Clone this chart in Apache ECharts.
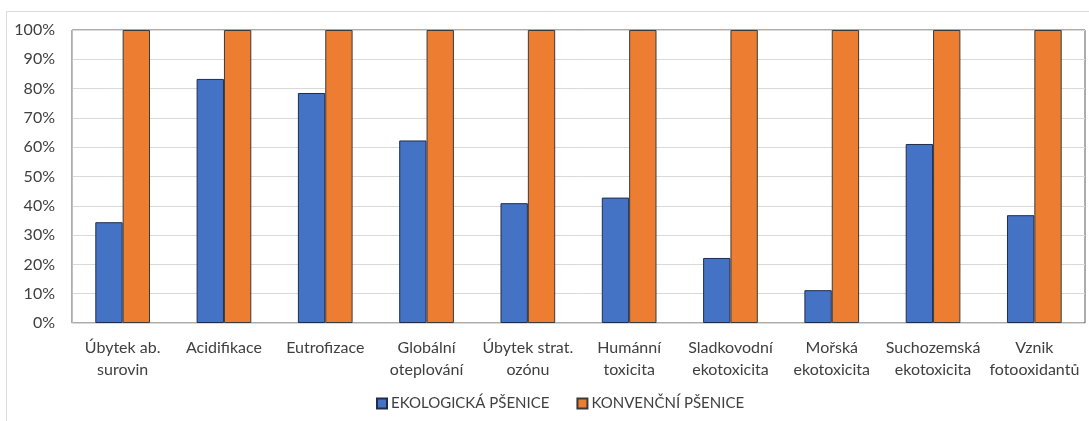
<!DOCTYPE html>
<html>
<head>
<meta charset="utf-8">
<script src="https://cdn.jsdelivr.net/npm/echarts@6/dist/echarts.min.js"></script>
<style>
  html, body { margin: 0; padding: 0; background: #fff; }
  #chart { width: 1089px; height: 421px; }
</style>
</head>
<body>
<div id="chart"></div>
<script>
// Impact categories (x axis)
const categories = [
  'Úbytek ab.\nsurovin',
  'Acidifikace',
  'Eutrofizace',
  'Globální\noteplování',
  'Úbytek strat.\nozónu',
  'Humánní\ntoxicita',
  'Sladkovodní\nekotoxicita',
  'Mořská\nekotoxicita',
  'Suchozemská\nekotoxicita',
  'Vznik\nfotooxidantů'
];

// Relative impacts in percent (conventional wheat = 100 %)
const ekologicka = [34.4, 83.3, 78.5, 62.3, 40.9, 42.8, 22.2, 11.2, 61.1, 36.8];
const konvencni  = [100, 100, 100, 100, 100, 100, 100, 100, 100, 100];

const seriesNames = ['EKOLOGICKÁ PŠENICE', 'KONVENČNÍ PŠENICE'];

const FONT = 'Lato, "Open Sans", sans-serif';

const chart = echarts.init(document.getElementById('chart'), null, { renderer: 'canvas' });

chart.setOption({
  animation: false,
  backgroundColor: '#ffffff',
  textStyle: { fontFamily: FONT },
  graphic: [{
    type: 'rect',
    shape: { x: 6.5, y: 11.5, width: 1100, height: 430 },
    style: { fill: 'none', stroke: '#d9d9d9', lineWidth: 1 },
    silent: true,
    z: -10
  }],
  grid: {
    left: 72, right: 4, top: 30, bottom: 98,
    show: true,
    borderColor: '#595959',
    borderWidth: 1,
    backgroundColor: 'transparent'
  },
  legend: {
    data: seriesNames,
    bottom: 5,
    left: 371,
    itemWidth: 10,
    itemHeight: 10,
    itemGap: 27,
    icon: 'rect',
    textStyle: { fontFamily: FONT, fontSize: 15, color: '#404040', padding: [0, 0, 0, -1] }
  },
  xAxis: {
    type: 'category',
    data: categories,
    axisLine: { show: true, lineStyle: { color: '#d9d9d9', width: 1 } },
    axisTick: { show: false },
    axisLabel: {
      interval: 0,
      margin: 14,
      fontFamily: FONT,
      fontSize: 16,
      lineHeight: 22,
      color: '#404040'
    }
  },
  yAxis: {
    type: 'value',
    min: 0,
    max: 100,
    interval: 10,
    axisLine: { show: true, lineStyle: { color: '#bfbfbf', width: 1 } },
    axisTick: { show: false },
    splitLine: { lineStyle: { color: '#d9d9d9', width: 1 } },
    axisLabel: {
      formatter: '{value}%',
      margin: 17,
      fontFamily: FONT,
      fontSize: 16,
      color: '#404040'
    }
  },
  series: [
    {
      name: seriesNames[0],
      type: 'bar',
      data: ekologicka,
      barGap: '0%',
      barCategoryGap: '46%',
      itemStyle: { color: '#4472C4', borderColor: '#1f2d4d', borderWidth: 1 }
    },
    {
      name: seriesNames[1],
      type: 'bar',
      data: konvencni,
      barGap: '0%',
      barCategoryGap: '46%',
      itemStyle: { color: '#ED7D31', borderColor: '#3a3a3a', borderWidth: 1 }
    }
  ]
});
</script>
</body>
</html>
